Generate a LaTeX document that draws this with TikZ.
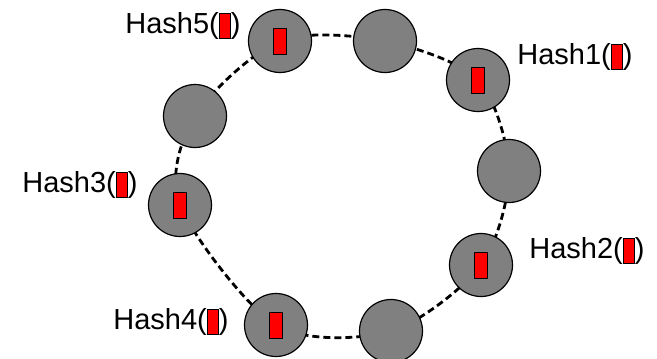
\documentclass[tikz,border=0pt]{standalone}
\usepackage{fontspec}
\setmainfont{Liberation Sans}
\newcommand{\keybox}{\raisebox{-4pt}{\setlength{\fboxsep}{0pt}\setlength{\fboxrule}{1pt}\fcolorbox{black}{red}{\rule{0pt}{24pt}\hspace{10pt}}}}
\begin{document}
\begin{tikzpicture}[x=1pt,y=-1pt,
  peer/.style={circle,draw=black,line width=1.2pt,minimum size=63pt,inner sep=0pt},
  keyrect/.style={draw=black,line width=1pt,fill=red,minimum width=13pt,minimum height=26pt,inner sep=0pt},
  lbl/.style={font=\fontsize{29}{29}\selectfont,inner sep=0pt},
  ring/.style={line width=2.8pt,dash pattern=on 7pt off 4pt}]
\useasboundingbox (0,0) rectangle (657,359);
\definecolor{peergray}{RGB}{128,128,128}
\coordinate (c5) at (280,41);
\coordinate (ct) at (385,41);
\coordinate (c1) at (478,80);
\coordinate (cr) at (509,171);
\coordinate (c2) at (481,265);
\coordinate (cb) at (391,331);
\coordinate (c4) at (276,325);
\coordinate (c3) at (180,205);
\coordinate (cl) at (195,116);
\draw[ring] plot[smooth cycle,tension=0.5] coordinates {(c5) (ct) (c1) (cr) (c2) (cb) (c4) (c3) (cl)};
\foreach \n in {5,t,1,r,2,b,4,3,l}{
  \node[peer,fill=peergray] (p\n) at (c\n) {};
}
\foreach \n in {5,1,2,4,3}{
  \node[keyrect] (k\n) at (p\n) {};
}
\node[lbl] (h5) at (183,26) {Hash5(\keybox)};
\node[lbl] (h1) at (575,57) {Hash1(\keybox)};
\node[lbl] (h3) at (80,185) {Hash3(\keybox)};
\node[lbl] (h4) at (171,322) {Hash4(\keybox)};
\node[lbl] (h2) at (587,251) {Hash2(\keybox)};
\end{tikzpicture}
\end{document}
